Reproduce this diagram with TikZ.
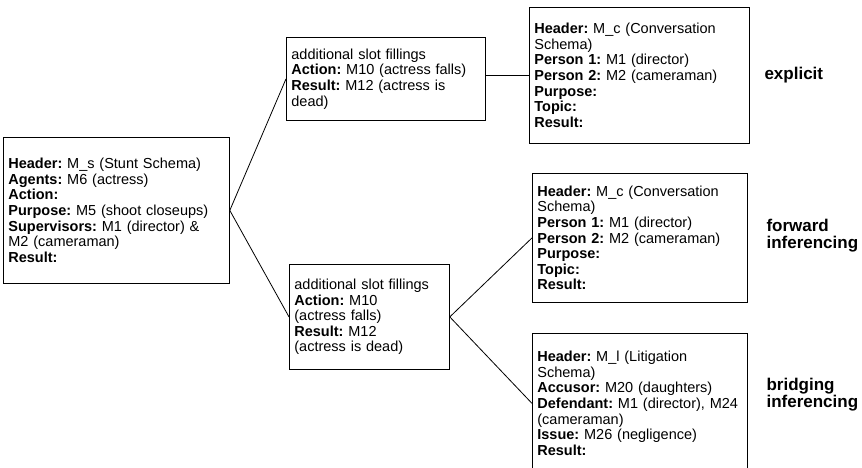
\documentclass[tikz,border=0pt]{standalone}
\usepackage{fontspec}
\setmainfont{Liberation Sans}
\frenchspacing
\begin{document}
\begin{tikzpicture}[
    x=1pt, y=-1pt,
    schema/.style={draw=black, line width=0.8pt, anchor=north west, align=left,
      inner xsep=5pt, inner ysep=0pt, font=\fontsize{14.5}{15.6}\selectfont},
    tag/.style={anchor=west, align=left, font=\fontsize{17}{17}\selectfont\bfseries},
    link/.style={black, line width=0.8pt},
]
    \useasboundingbox (0,0) rectangle (862,467);

    % Stunt schema (left)
    \node[schema, text width=216pt, minimum height=146pt] (stunt) at (3,137) {%
      \textbf{Header:} M\_s (Stunt Schema)\\
      \textbf{Agents:} M6 (actress)\\
      \textbf{Action:}\\
      \textbf{Purpose:} M5 (shoot closeups)\\
      \textbf{Supervisors:} M1 (director) \&\\
      M2 (cameraman)\\
      \textbf{Result:}};

    % Additional slot fillings (middle)
    \node[schema, text width=189pt, minimum height=83pt] (slots1) at (286,37) {%
      additional slot fillings\\
      \textbf{Action:} M10 (actress falls)\\
      \textbf{Result:} M12 (actress is\\
      dead)};
    \node[schema, text width=150pt, minimum height=105pt] (slots2) at (289,264) {%
      additional slot fillings\\
      \textbf{Action:} M10\\
      (actress falls)\\
      \textbf{Result:} M12\\
      (actress is dead)};

    % Conversation and litigation schemas (right)
    \node[schema, text width=210pt, minimum height=136pt] (conv1) at (529,7) {%
      \textbf{Header:} M\_c (Conversation\\
      Schema)\\
      \textbf{Person 1:} M1 (director)\\
      \textbf{Person 2:} M2 (cameraman)\\
      \textbf{Purpose:}\\
      \textbf{Topic:}\\
      \textbf{Result:}};
    \node[schema, text width=205pt, minimum height=129pt] (conv2) at (532,173) {%
      \textbf{Header:} M\_c (Conversation\\
      Schema)\\
      \textbf{Person 1:} M1 (director)\\
      \textbf{Person 2:} M2 (cameraman)\\
      \textbf{Purpose:}\\
      \textbf{Topic:}\\
      \textbf{Result:}};
    \node[schema, text width=205pt, minimum height=140pt] (litig) at (532,333) {%
      \textbf{Header:} M\_l (Litigation\\
      Schema)\\
      \textbf{Accusor:} M20 (daughters)\\
      \textbf{Defendant:} M1 (director), M24\\
      (cameraman)\\
      \textbf{Issue:} M26 (negligence)\\
      \textbf{Result:}};

    % Kind of inference
    \node[tag] (explicit) at (761,75) {explicit};
    \node[tag] (forward) at (763,236) {forward\\inferencing};
    \node[tag] (bridging) at (763,395) {bridging\\inferencing};

    % Connectors
    \draw[link] (stunt.east) -- (slots1.west);
    \draw[link] (stunt.east) -- (slots2.west);
    \draw[link] (conv1.west -| slots1.east) -- (conv1.west);
    \draw[link] (slots2.east) -- (conv2.west);
    \draw[link] (slots2.east) -- (litig.west);
\end{tikzpicture}
\end{document}
